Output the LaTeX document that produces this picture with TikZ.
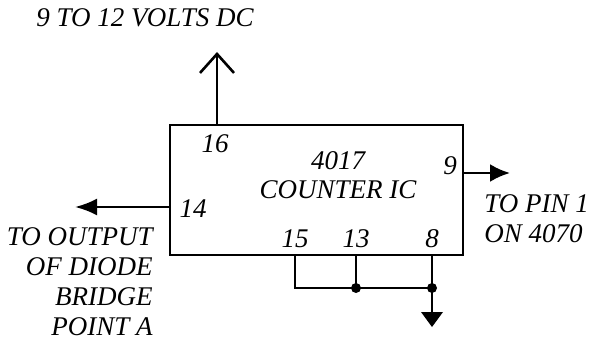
\documentclass[tikz,border=0pt]{standalone}
\usepackage{fontspec}
\setmainfont{Liberation Serif}
\usetikzlibrary{arrows.meta}
\tikzset{lbl/.style={font=\fontsize{27}{30}\selectfont\itshape,inner sep=0pt},
  pinlbl/.style={lbl,anchor=base}}
\begin{document}
\begin{tikzpicture}[x=1pt,y=-1pt,line width=2.6pt]
\useasboundingbox (0,0) rectangle (592,342);
% the counter chip
\node[draw,line width=2.8pt,minimum width=293pt,minimum height=130pt,inner sep=0pt](IC) at (316.5,190){};
\node[pinlbl](name1) at (338,170){4017};
\node[pinlbl](name2) at (338,198){COUNTER IC};
\node[pinlbl](n16) at (215,153){16};
\node[pinlbl](n14) at (193,217){14};
\node[pinlbl](n9) at (450,175){9};
\node[pinlbl](n15) at (295,247){15};
\node[pinlbl](n13) at (356,247){13};
\node[pinlbl](n8) at (432,247){8};
% supply, pin 16
\coordinate (p16) at (IC.north -| 217,0);
\coordinate (vcc) at (217,52);
\draw[-{Straight Barb[length=19pt,width=34pt]}] (p16) -- (vcc);
\node[lbl,anchor=base](vlbl) at (145,27){9 TO 12 VOLTS DC};
% pin 14 to the bridge
\coordinate (p14) at (IC.west |- 0,207);
\coordinate (bridge) at (75,207);
\draw[-{Latex[length=22pt,width=17pt]}] (p14) -- (bridge);
\node[lbl,anchor=base east,align=right](blbl) at (154,335){TO OUTPUT\\OF DIODE\\BRIDGE\\POINT A};
% pin 9 out
\coordinate (p9) at (IC.east |- 0,173);
\coordinate (out) at (510,173);
\draw[-{Latex[length=20pt,width=18pt]}] (p9) -- (out);
\node[lbl,anchor=base west,align=left](olbl) at (483,242){TO PIN 1\\ON 4070};
% pins 15, 13, 8 to ground
\coordinate (p15) at (IC.south -| 295,0);
\coordinate (p13) at (IC.south -| 356,0);
\coordinate (p8) at (IC.south -| 432,0);
\coordinate (j15) at (295,288);
\coordinate (j13) at (356,288);
\coordinate (j8) at (432,288);
\coordinate (gnd) at (432,312);
\draw (p15) -- (j15) -- (j8);
\draw (p13) -- (j13);
\draw (p8) -- (j8) -- (gnd);
\fill (j13) circle (5pt);
\fill (j8) circle (5pt);
\fill (gnd) ++(-11,0) -- ++(22,0) -- ++(-11,15) -- cycle;
\end{tikzpicture}
\end{document}
